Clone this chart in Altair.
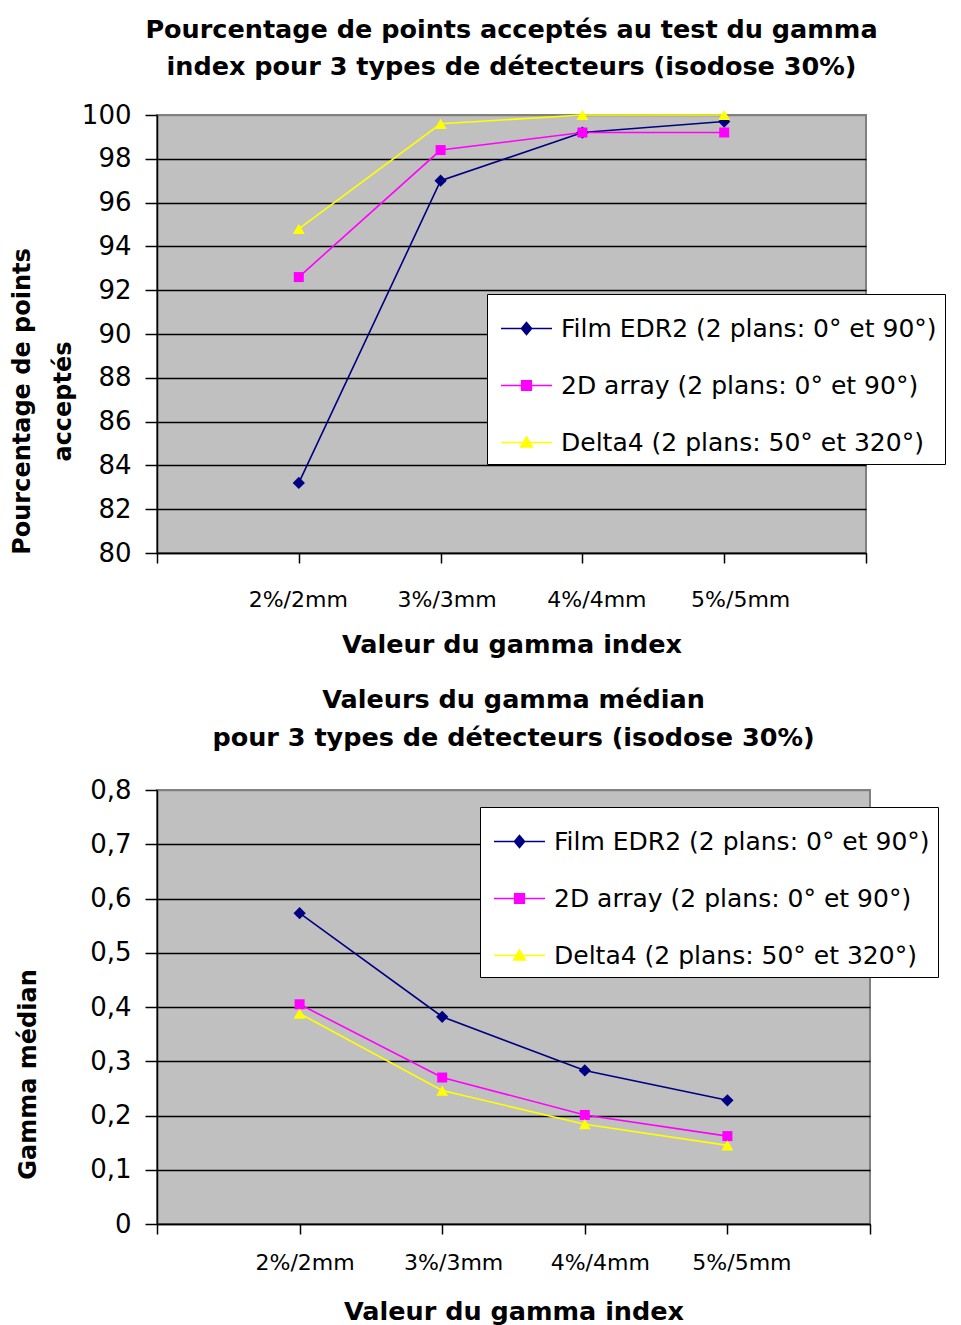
import altair as alt
import pandas as pd

# ---------------- data ----------------
categories = ["2%/2mm", "3%/3mm", "4%/4mm", "5%/5mm"]
cat_index = [1, 2, 3, 4]
series_names = [
    "Film EDR2 (2 plans: 0° et 90°)",
    "2D array (2 plans: 0° et 90°)",
    "Delta4 (2 plans: 50° et 320°)",
]
series_colors = ["#000080", "#FF00FF", "#FFFF00"]
marker_shapes = ["diamond", "square", "triangle-up"]
marker_sizes = [150, 100, 140]
legend_paths = [
    "M-1,0L1,0M0,-0.24L0.2,0L0,0.24L-0.2,0Z",
    "M-1,0L1,0M-0.19,-0.19L0.19,-0.19L0.19,0.19L-0.19,0.19Z",
    "M-1,0L1,0M0,-0.22L0.23,0.18L-0.23,0.18Z",
]

pct_film = [83.2, 97.0, 99.2, 99.7]
pct_2d = [92.6, 98.4, 99.2, 99.2]
pct_delta4 = [94.8, 99.6, 100.0, 100.0]

med_film = [0.573, 0.382, 0.283, 0.228]
med_2d = [0.405, 0.270, 0.201, 0.162]
med_delta4 = [0.388, 0.246, 0.184, 0.145]

pct_ticks = [80, 82, 84, 86, 88, 90, 92, 94, 96, 98, 100]
med_ticks = [0, 0.1, 0.2, 0.3, 0.4, 0.5, 0.6, 0.7, 0.8]

FONT = "DejaVu Sans"


def long_df(values_by_series):
    rows = []
    for k, (s, vals) in enumerate(zip(series_names, values_by_series)):
        for c, i, v in zip(categories, cat_index, vals):
            rows.append({"series": s, "order": k, "category": c, "pos": i, "value": v})
    return pd.DataFrame(rows)


x_label_expr = "[''," + ",".join("'" + c + "'" for c in categories) + ",''][datum.value]"


def panel(df, title_lines, title_lh, title_offset, y_domain, y_values, y_label_expr,
          y_title, y_title_lh, y_title_x, y_title_y, x_offsets, x_label_pad,
          x_title_pad, legend_x, legend_y, width, height, top_value):
    x = alt.X(
        "pos:Q",
        scale=alt.Scale(domain=[0, 5], nice=False, zero=False),
        axis=alt.Axis(
            values=[0, 1, 2, 3, 4, 5],
            labelExpr=x_label_expr,
            labelFontSize=22,
            labelPadding=x_label_pad,
            labelOffset={
                "condition": [
                    {"test": "datum.value == %d" % (i + 1), "value": o}
                    for i, o in enumerate(x_offsets)
                ],
                "value": 0,
            },
            tickSize=10,
            grid=False,
            title="Valeur du gamma index",
            titleFontSize=25.5,
            titlePadding=x_title_pad,
        ),
    )
    y = alt.Y(
        "value:Q",
        scale=alt.Scale(domain=y_domain, nice=False, zero=False),
        axis=alt.Axis(
            values=y_values,
            labelExpr=y_label_expr,
            labelFontSize=26,
            labelPadding=14,
            tickSize=12,
            grid=True,
            gridColor={
                "condition": {"test": "datum.value == %s" % top_value, "value": "#808080"},
                "value": "black",
            },
            gridWidth=1.5,
            title=y_title,
            titleFontSize=24,
            titleLineHeight=y_title_lh,
            titleAngle=270,
            titleBaseline="middle",
            titleAlign="center",
            titleX=y_title_x,
            titleY=y_title_y,
        ),
    )
    base = alt.Chart(df)
    layers = []
    for s, col in zip(series_names, series_colors):
        layers.append(
            base.transform_filter(alt.datum.series == s)
            .mark_line(strokeWidth=1.6, color=col)
            .encode(x=x, y=y, order="pos:Q")
        )
    for s, col, shp, sz in zip(series_names, series_colors, marker_shapes, marker_sizes):
        layers.append(
            base.transform_filter(alt.datum.series == s)
            .mark_point(shape=shp, filled=True, size=sz, opacity=1, color=col, strokeWidth=0)
            .encode(x=x, y=y)
        )
    leg = alt.Legend(
        title=None,
        orient="none",
        legendX=legend_x,
        legendY=legend_y,
        direction="vertical",
        fillColor="white",
        strokeColor="black",
        padding=8,
        symbolSize=2601,
        symbolStrokeWidth=1.5,
        symbolOffset=5,
        symbolOpacity=1,
        labelOffset=8,
        labelFontSize=25,
        labelFont=FONT,
        labelColor="black",
        labelLimit=1000,
        rowPadding=17,
    )
    legend_layer = (
        base.mark_point(filled=True, opacity=0)
        .encode(
            x=x,
            y=y,
            fill=alt.Fill("series:N", scale=alt.Scale(domain=series_names, range=series_colors), legend=leg),
            stroke=alt.Stroke("series:N", scale=alt.Scale(domain=series_names, range=series_colors), legend=leg),
            shape=alt.Shape("series:N", scale=alt.Scale(domain=series_names, range=legend_paths), legend=leg),
        )
    )
    layers.append(legend_layer)
    return alt.layer(*layers).properties(
        width=width,
        height=height,
        title=alt.Title(
            text=title_lines,
            fontSize=25.5,
            font=FONT,
            fontWeight="bold",
            lineHeight=title_lh,
            offset=title_offset,
            anchor="middle",
            color="black",
        ),
    )


chart1 = panel(
    long_df([pct_film, pct_2d, pct_delta4]),
    ["Pourcentage de points acceptés au test du gamma",
     "index pour 3 types de détecteurs (isodose 30%)"],
    37, 22,
    [80, 100], pct_ticks, "format(datum.value, 'd')",
    ["Pourcentage de points", "acceptés"], 41, -135, 286,
    [-1, 6, 14, 16], 26, 22,
    330, 179, 709, 438, "100",
)

chart2 = panel(
    long_df([med_film, med_2d, med_delta4]),
    ["Valeurs du gamma médian",
     "pour 3 types de détecteurs (isodose 30%)"],
    38, 26,
    [0, 0.8], med_ticks,
    "datum.value == 0 ? '0' : replace(format(datum.value, '.1f'), '.', ',')",
    "Gamma médian", 24, -129, 284,
    [5, 11, 15, 14], 18, 26,
    323, 17, 713, 434, "0.8",
)

chart = (
    alt.concat(chart1, chart2, columns=1, spacing=27)
    .resolve_scale(fill="independent", stroke="independent", shape="independent")
    .properties(padding={"left": 1, "top": 8, "right": 0, "bottom": 0})
    .configure_view(fill="#C0C0C0", stroke="#808080", strokeWidth=2)
    .configure_axis(
        domainColor="black",
        domainWidth=1.5,
        tickColor="black",
        tickWidth=1.5,
        labelFont=FONT,
        labelColor="black",
        titleFont=FONT,
        titleFontWeight="bold",
        titleColor="black",
    )
)

chart.save("out.html", embed_options={"renderer": "svg", "actions": False})
